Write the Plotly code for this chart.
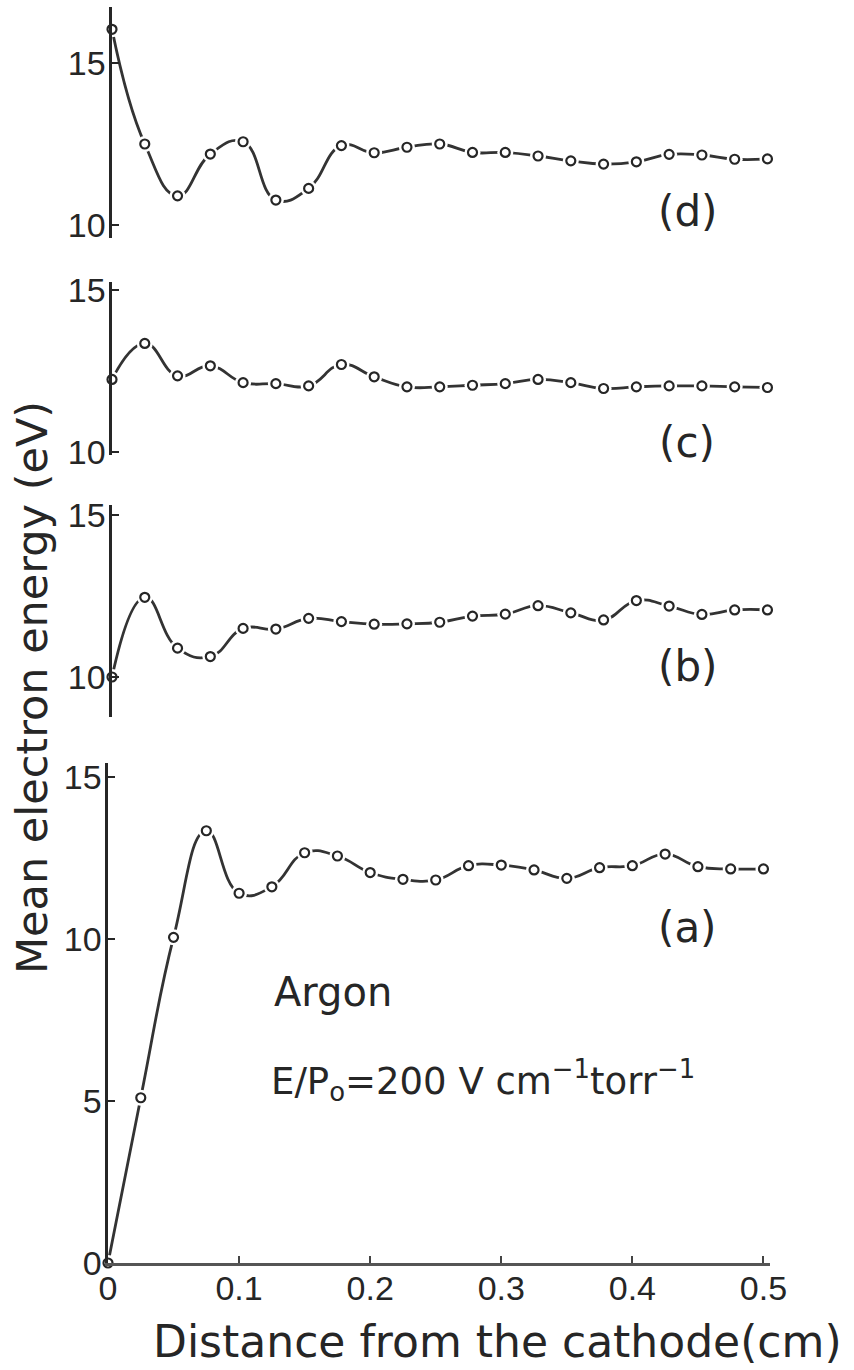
import plotly.graph_objects as go

# ---------------- data ----------------
distance_cm = [0.0, 0.025, 0.05, 0.075, 0.1, 0.125, 0.15, 0.175, 0.2, 0.225, 0.25,
               0.275, 0.3, 0.325, 0.35, 0.375, 0.4, 0.425, 0.45, 0.475, 0.5]

energy_a = [0.0, 5.1, 10.05, 13.34, 11.41, 11.61, 12.66, 12.56, 12.05, 11.84, 11.82,
            12.26, 12.28, 12.13, 11.87, 12.2, 12.26, 12.62, 12.23, 12.16, 12.16]
energy_b = [10.0, 12.46, 10.89, 10.63, 11.5, 11.48, 11.81, 11.71, 11.63, 11.64, 11.69,
            11.88, 11.94, 12.2, 11.98, 11.76, 12.36, 12.19, 11.93, 12.07, 12.07]
energy_c = [12.24, 13.35, 12.35, 12.66, 12.14, 12.11, 12.04, 12.7, 12.32, 12.01, 12.01,
            12.06, 12.11, 12.24, 12.14, 11.96, 12.01, 12.04, 12.04, 12.01, 11.99]
energy_d = [16.04, 12.5, 10.9, 12.19, 12.57, 10.77, 11.13, 12.45, 12.23, 12.4, 12.5,
            12.24, 12.24, 12.13, 11.98, 11.88, 11.95, 12.18, 12.16, 12.03, 12.04]

panel_labels = ["(a)", "(b)", "(c)", "(d)"]
x_tickvals = [0, 0.1, 0.2, 0.3, 0.4, 0.5]
x_ticktext = ["0", "0.1", "0.2", "0.3", "0.4", "0.5"]

# ---------------- layout helpers ----------------
W, H = 854, 1370
def fx(p):
    return p / W
def fy(p):
    return 1 - p / H

INK = "#262626"
LINE = "#333333"
TEXT_FONT = "DejaVu Sans"
TICK_FONT = "Liberation Sans, Arial, sans-serif"

fig = go.Figure()

series = [energy_a, energy_b, energy_c, energy_d]
for i, vals in enumerate(series):
    xa = "x" if i == 0 else f"x{i+1}"
    ya = "y" if i == 0 else f"y{i+1}"
    # smooth hand-drawn curve
    fig.add_trace(go.Scatter(x=distance_cm, y=vals, mode="lines", xaxis=xa, yaxis=ya,
                             line=dict(color=LINE, width=2.8, shape="spline", smoothing=1.3),
                             showlegend=False, hoverinfo="skip"))
    # white halo so the curve stops short of each circle
    fig.add_trace(go.Scatter(x=distance_cm, y=vals, mode="markers", xaxis=xa, yaxis=ya,
                             marker=dict(color="white", size=16, line=dict(width=0)),
                             cliponaxis=False, showlegend=False, hoverinfo="skip"))
    # open circles
    fig.add_trace(go.Scatter(x=distance_cm, y=vals, mode="markers", xaxis=xa, yaxis=ya,
                             marker=dict(color="white", size=9, line=dict(color=INK, width=2.2)),
                             cliponaxis=False, showlegend=False,
                             name=panel_labels[i]))

yax_common = dict(showline=True, linecolor=INK, linewidth=2.6, ticks="inside",
                  ticklen=7, tickwidth=2, tickcolor=INK, showgrid=False, zeroline=False,
                  tickfont=dict(family=TICK_FONT, size=34, color=INK),
                  ticklabelstandoff=-3, automargin=False)
xax_hidden = dict(range=[0, 0.505], visible=False, domain=[fx(112), fx(774)],
                  automargin=False)

fig.update_layout(
    template="none",
    width=W, height=H, autosize=False,
    margin=dict(l=0, r=0, t=0, b=0, pad=0),
    paper_bgcolor="white", plot_bgcolor="white",
    xaxis=dict(domain=[fx(108), fx(770)], range=[0, 0.505], anchor="y",
               showline=True, linecolor="#555555", linewidth=2.6,
               ticks="inside", ticklen=7, tickwidth=2, tickcolor="#444444",
               tickvals=x_tickvals, ticktext=x_ticktext, showgrid=False, zeroline=False,
               tickfont=dict(family=TICK_FONT, size=34, color=INK), ticklabelstandoff=-6,
               automargin=False),
    yaxis=dict(domain=[fy(1263), fy(763)], range=[0, 15.43], anchor="x",
               tickvals=[0, 5, 10, 15], **yax_common),
    xaxis2=dict(anchor="y2", **xax_hidden),
    yaxis2=dict(domain=[fy(717), fy(505)], range=[8.765, 15.309], anchor="x2",
                tickvals=[10, 15], **yax_common),
    xaxis3=dict(anchor="y3", **xax_hidden),
    yaxis3=dict(domain=[fy(455), fy(282)], range=[9.907, 15.247], anchor="x3",
                tickvals=[10, 15], **yax_common),
    xaxis4=dict(anchor="y4", **xax_hidden),
    yaxis4=dict(domain=[fy(238), fy(7)], range=[9.599, 16.728], anchor="x4",
                tickvals=[10, 15], **yax_common),
)

ann = []
label_centers = [927, 667, 442, 211]
for lab, yc in zip(panel_labels, label_centers):
    ann.append(dict(text=lab, x=fx(687), y=fy(yc), xref="paper", yref="paper",
                    xanchor="center", yanchor="middle", showarrow=False,
                    font=dict(family=TEXT_FONT, size=42, color=INK)))
ann.append(dict(text="Argon", x=fx(272), y=fy(992), xref="paper", yref="paper",
                xanchor="left", yanchor="middle", showarrow=False,
                font=dict(family=TEXT_FONT, size=40, color=INK)))
ann.append(dict(text="E/P<sub>o</sub>=200 V cm<sup>−1</sup>torr<sup>−1</sup>",
                x=fx(269), y=fy(1080), xref="paper", yref="paper",
                xanchor="left", yanchor="middle", showarrow=False,
                font=dict(family=TEXT_FONT, size=37, color=INK)))
ann.append(dict(text="Distance from the cathode(cm)", x=fx(497), y=fy(1369),
                xref="paper", yref="paper", xanchor="center", yanchor="bottom",
                showarrow=False, font=dict(family=TEXT_FONT, size=44, color=INK)))
ann.append(dict(text="Mean electron energy (eV)", x=fx(32), y=fy(688),
                xref="paper", yref="paper", xanchor="center", yanchor="middle",
                textangle=-90, showarrow=False,
                font=dict(family=TEXT_FONT, size=43, color=INK)))
fig.update_layout(annotations=ann)

fig.write_html("out.html",
               config={"displayModeBar": False, "staticPlot": True},
               post_script="document.body.style.margin='0';document.body.style.padding='0';")
